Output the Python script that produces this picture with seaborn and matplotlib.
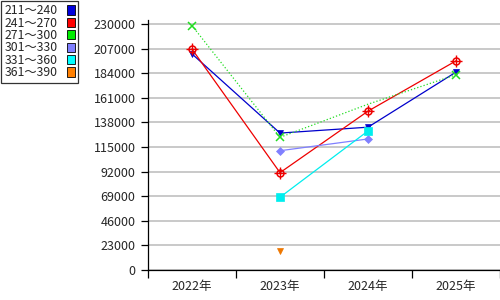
import matplotlib
matplotlib.use("Agg")
import matplotlib.pyplot as plt
import seaborn as sns
import pandas as pd
import numpy as np
from matplotlib.patches import Patch

sns.set_theme(style="white")
plt.rcParams['font.family'] = ['Noto Sans CJK JP', 'DejaVu Sans']

years = ["2022年", "2023年", "2024年", "2025年"]
labels = ["211～240", "241～270", "271～300", "301～330", "331～360", "361～390"]
s211 = [202000, 128000, 133500, 185000]
s241 = [206500, 91000, 148500, 195500]
s271 = [228500, 124000, 155000, 182500]
s301 = [None, 111500, 122500, None]
s331 = [None, 68000, 130000, None]
s361 = [None, 18000, None, None]
yticks = [0, 23000, 46000, 69000, 92000, 115000, 138000, 161000, 184000, 207000, 230000]

series = [s211, s241, s271, s301, s331, s361]
colors = ["#0000cc", "#ee0000", "#22dd22", "#8080ff", "#00eeee", "#ee7700"]
legend_colors = ["#0000dd", "#ff0000", "#00ee00", "#7f7fff", "#00ffff", "#ff7f00"]
styles = ["-", "-", ":", "-", "-", "-"]
markers = ["v", "o", "x", "D", "s", "v"]
msizes = [5, 5, 6, 4.5, 6, 5]

fig = plt.figure(figsize=(5, 3), dpi=100)
ax = fig.add_axes([148/500, 30/300, 352/500, 250/300])

for i, (vals, lab) in enumerate(zip(series, labels)):
    df = pd.DataFrame({"x": np.arange(len(years)), "y": vals}).dropna()
    mfc = "none" if markers[i] == "o" else colors[i]
    mevery = [0, 1, 3] if i == 2 else None
    sns.lineplot(data=df, x="x", y="y", ax=ax, color=colors[i], linestyle=styles[i],
                 linewidth=0.9, marker=markers[i], markersize=msizes[i],
                 markerfacecolor=mfc, markeredgecolor=colors[i], markevery=mevery,
                 markeredgewidth=1.1 if markers[i] in ("o", "x") else 0.5,
                 legend=False, zorder=3)
    if markers[i] == "o":
        ax.plot(df["x"], df["y"], linestyle="none", marker="+", markersize=8,
                color=colors[i], markeredgewidth=1.0, zorder=3)

ax.set_xlim(-0.5, 3.5)
ax.set_ylim(0, 233700)
ax.set_yticks(yticks)
ax.set_yticklabels([str(v) for v in yticks], fontsize=9)
ax.set_xticks(range(len(years)))
ax.set_xticklabels(years, fontsize=9)
ax.set_xticks(np.arange(-0.5, 3.6, 1.0), minor=True)
ax.tick_params(axis="x", which="major", length=0, pad=7)
ax.tick_params(axis="x", which="minor", length=6, width=0.9, color="black", direction="out", bottom=True)
ax.tick_params(axis="y", length=5, width=0.9, color="black", direction="out", left=True, pad=4)
ax.set_xlabel("")
ax.set_ylabel("")
ax.grid(axis="y", color="#c0c0c0", linewidth=1.2, zorder=0)
ax.set_axisbelow(True)
for s in ["top", "right"]:
    ax.spines[s].set_visible(False)
for s in ["left", "bottom"]:
    ax.spines[s].set_color("black")
    ax.spines[s].set_linewidth(0.9)

handles = [Patch(facecolor=c, edgecolor="black", linewidth=0.6) for c in legend_colors]
leg = fig.legend(handles, labels, loc="upper left", bbox_to_anchor=(0.0, 1.0),
                 bbox_transform=fig.transFigure, markerfirst=False, fontsize=8.8,
                 frameon=True, fancybox=False, borderpad=0.3, labelspacing=-0.05,
                 handlelength=0.6, handleheight=0.8, handletextpad=0.8, borderaxespad=0.05)
leg.get_frame().set_edgecolor("black")
leg.get_frame().set_linewidth(0.9)

fig.savefig("out.png", dpi=100)
